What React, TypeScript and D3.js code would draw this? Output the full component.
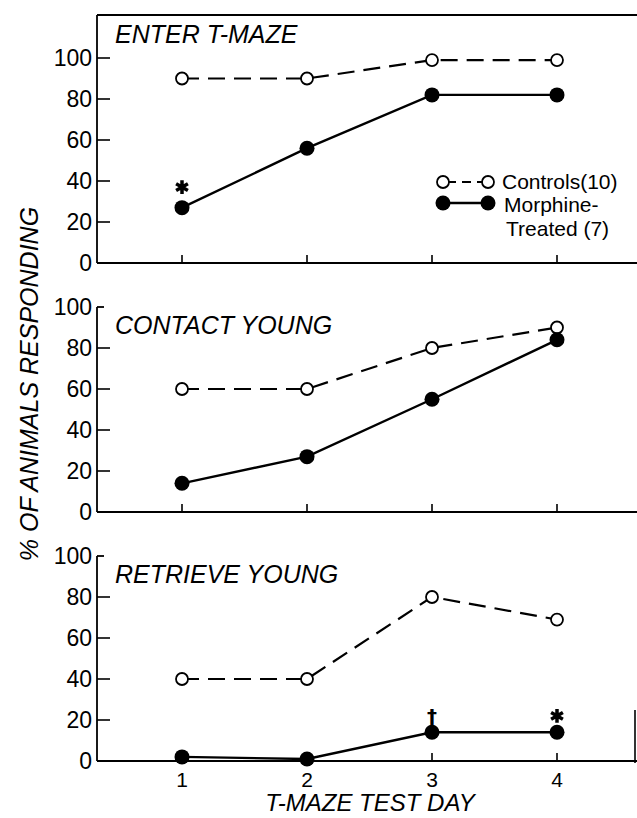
import * as d3 from "d3";

// T-maze test days
const days = [1, 2, 3, 4];
const yTicks = [0, 20, 40, 60, 80, 100];

// % of animals responding
const enterControls = [90, 90, 99, 99];
const enterMorphine = [27, 56, 82, 82];
const contactControls = [60, 60, 80, 90];
const contactMorphine = [14, 27, 55, 84];
const retrieveControls = [40, 40, 80, 69];
const retrieveMorphine = [2, 1, 14, 14];

const panelTitles = ["ENTER T-MAZE", "CONTACT YOUNG", "RETRIEVE YOUNG"];

// significance marks: [panel, day, value, glyph]
const marks: [number, number, number, string][] = [
  [0, 1, 37, "*"],
  [2, 3, 22, "†"],
  [2, 4, 22, "*"],
];

const W = 637;
const H = 818;
const axisX = 97;
const baselines = [263, 512, 761];
const panelH = 205;
const font = "'Liberation Sans', Arial, sans-serif";

const x = d3.scaleLinear().domain([1, 4]).range([182, 557]);

const Panel = ({ idx, controls, morphine }: { idx: number; controls: number[]; morphine: number[] }) => {
  const base = baselines[idx];
  const y = d3.scaleLinear().domain([0, 100]).range([base, base - panelH]);
  const line = d3
    .line<number>()
    .x((_d, i) => x(days[i]))
    .y((d) => y(d));
  const top = idx === 0 ? 15 : y(100);
  const star = d3.symbol(d3.symbolAsterisk, 130)();

  return (
    <g>
      {/* axes */}
      <line x1={axisX} x2={axisX} y1={top} y2={base} stroke="#000" strokeWidth={1.8} />
      <line x1={axisX} x2={W} y1={base} y2={base} stroke="#000" strokeWidth={1.8} />
      {idx === 0 ? (
        <line x1={axisX} x2={W} y1={15} y2={15} stroke="#000" strokeWidth={1.8} />
      ) : (
        <line x1={axisX} x2={axisX + 7} y1={top} y2={top} stroke="#000" strokeWidth={1.8} />
      )}
      {idx === 2 && <line x1={635} x2={635} y1={base - 51} y2={base + 2} stroke="#000" strokeWidth={1.6} />}
      {yTicks.map((t) => (
        <g key={t}>
          {t > 0 && (idx === 0 || t < 100) && (
            <line x1={axisX} x2={axisX + 13} y1={y(t)} y2={y(t)} stroke="#000" strokeWidth={1.6} />
          )}
          <text x={axisX - 5} y={y(t)} dy="0.36em" textAnchor="end" fontSize={23} fontFamily={font}>
            {t}
          </text>
        </g>
      ))}
      {days.map((d) => (
        <line key={d} x1={x(d)} x2={x(d)} y1={base} y2={base - 8} stroke="#000" strokeWidth={1.6} />
      ))}
      {idx === 2 &&
        days.map((d) => (
          <text key={d} x={x(d)} y={787} textAnchor="middle" fontSize={21} fontFamily={font}>
            {d}
          </text>
        ))}

      <text
        x={115}
        y={idx === 0 ? 43 : y(100) + 27}
        fontSize={25}
        fontStyle="italic"
        fontFamily={font}
      >
        {panelTitles[idx]}
      </text>

      {/* series */}
      <path d={line(controls) ?? ""} fill="none" stroke="#000" strokeWidth={2.2} strokeDasharray="17,9" />
      <path d={line(morphine) ?? ""} fill="none" stroke="#000" strokeWidth={2.4} />
      {controls.map((v, i) => (
        <circle key={`c${i}`} cx={x(days[i])} cy={y(v)} r={6} fill="#fff" stroke="#000" strokeWidth={1.8} />
      ))}
      {morphine.map((v, i) => (
        <circle key={`m${i}`} cx={x(days[i])} cy={y(v)} r={7.5} fill="#000" />
      ))}

      {marks
        .filter((m) => m[0] === idx)
        .map(([, d, v, g], i) =>
          g === "*" ? (
            <path
              key={i}
              d={star ?? ""}
              transform={`translate(${x(d)},${y(v)})`}
              fill="none"
              stroke="#000"
              strokeWidth={3.5}
            />
          ) : (
            <text key={i} x={x(d)} y={y(v)} dy="0.35em" textAnchor="middle" fontSize={20} fontWeight="bold" fontFamily="'DejaVu Sans'">
              {g}
            </text>
          )
        )}
    </g>
  );
};

export default function App() {
  return (
    <svg width={W} height={H} style={{ position: "absolute", left: 0, top: 0, background: "#fff" }}>
      <Panel idx={0} controls={enterControls} morphine={enterMorphine} />
      <Panel idx={1} controls={contactControls} morphine={contactMorphine} />
      <Panel idx={2} controls={retrieveControls} morphine={retrieveMorphine} />

      {/* legend */}
      <g fontFamily={font} fontSize={21}>
        <line x1={443} x2={488} y1={182} y2={182} stroke="#000" strokeWidth={2.2} strokeDasharray="9,6" strokeDashoffset={-4} />
        <circle cx={443} cy={182} r={6} fill="#fff" stroke="#000" strokeWidth={1.8} />
        <circle cx={488} cy={182} r={6} fill="#fff" stroke="#000" strokeWidth={1.8} />
        <text x={502} y={189}>Controls(10)</text>
        <line x1={443} x2={488} y1={203} y2={203} stroke="#000" strokeWidth={2.4} />
        <circle cx={443} cy={203} r={7.5} fill="#000" />
        <circle cx={488} cy={203} r={7.5} fill="#000" />
        <text x={504} y={212}>Morphine-</text>
        <text x={506} y={236}>Treated (7)</text>
      </g>

      <text
        transform="translate(38,384) rotate(-90)"
        textAnchor="middle"
        fontSize={25}
        fontStyle="italic"
        fontFamily={font}
      >
        % OF ANIMALS RESPONDING
      </text>
      <text x={370} y={811} textAnchor="middle" fontSize={24} fontStyle="italic" fontFamily={font}>
        T-MAZE TEST DAY
      </text>
    </svg>
  );
}
